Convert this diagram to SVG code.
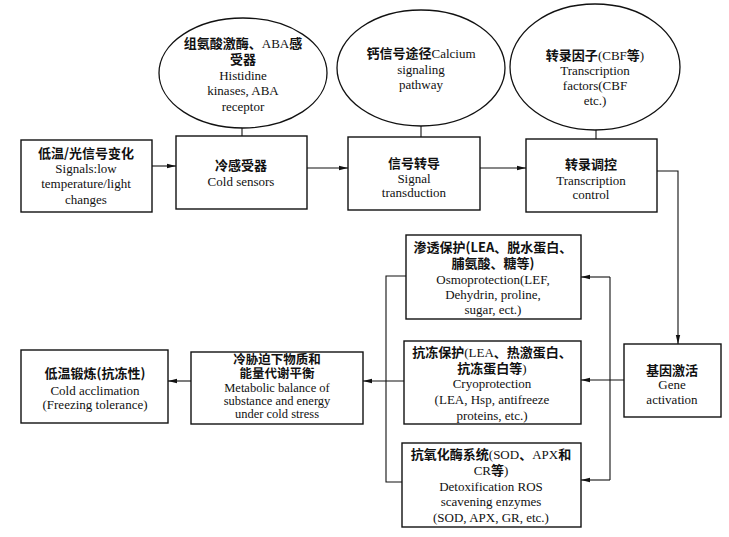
<svg xmlns="http://www.w3.org/2000/svg" width="729" height="537" viewBox="0 0 729 537">
<style>
.bx{fill:#fff;stroke:#111;stroke-width:1.4}
.el{fill:#fff;stroke:#111;stroke-width:1.3}
.ln{fill:none;stroke:#111;stroke-width:1.1}
text{font-family:"Liberation Serif","Noto Sans CJK SC",serif;font-size:13px;fill:#111;text-anchor:middle}
.zh{font-family:"Noto Sans CJK SC","Liberation Serif",sans-serif;font-weight:bold}
.sm{font-size:12.5px}
</style>
<defs>
<marker id="ar" markerWidth="9" markerHeight="6" refX="9" refY="3" orient="auto" markerUnits="userSpaceOnUse">
<path d="M0,0.8 L9,3 L0,5.2 z" fill="#111"/>
</marker>
</defs>
<rect width="729" height="537" fill="#fff"/>
<g id="connectors">
<line class="ln" x1="242" y1="127" x2="242" y2="136"/>
<line class="ln" x1="421" y1="126" x2="421" y2="137"/>
<line class="ln" x1="596" y1="130" x2="596" y2="139"/>
<line class="ln" x1="152" y1="166" x2="176" y2="166" marker-end="url(#ar)"/>
<line class="ln" x1="307" y1="168" x2="348" y2="168" marker-end="url(#ar)"/>
<line class="ln" x1="480" y1="168" x2="526" y2="168" marker-end="url(#ar)"/>
<polyline class="ln" points="657,171 678,171 678,344" marker-end="url(#ar)"/>
<line class="ln" x1="624" y1="380" x2="581" y2="380" marker-end="url(#ar)"/>
<line class="ln" x1="610" y1="277" x2="610" y2="480"/>
<line class="ln" x1="610" y1="277" x2="581" y2="277" marker-end="url(#ar)"/>
<line class="ln" x1="610" y1="480" x2="581" y2="480" marker-end="url(#ar)"/>
<polyline class="ln" points="406,276 386,276 386,482 402,482"/>
<line class="ln" x1="404" y1="381" x2="363" y2="381" marker-end="url(#ar)"/>
<line class="ln" x1="191" y1="381" x2="168" y2="381" marker-end="url(#ar)"/>
</g>
<g id="histidine">
<ellipse class="el" cx="243" cy="73" rx="84" ry="55"/>
<text x="243" y="48"><tspan class="zh">组氨酸激酶、</tspan>ABA<tspan class="zh">感</tspan></text>
<text x="243" y="64" class="zh">受器</text>
<text x="243" y="80">Histidine</text>
<text x="243" y="95">kinases, ABA</text>
<text x="243" y="111">receptor</text>
</g>
<g id="calcium">
<ellipse class="el" cx="421" cy="68" rx="84" ry="58"/>
<text x="421" y="58"><tspan class="zh">钙信号途径</tspan>Calcium</text>
<text x="421" y="74">signaling</text>
<text x="421" y="89">pathway</text>
</g>
<g id="tf">
<ellipse class="el" cx="595" cy="67" rx="85" ry="63"/>
<text x="595" y="60"><tspan class="zh">转录因子</tspan>(CBF<tspan class="zh">等</tspan>)</text>
<text x="595" y="75">Transcription</text>
<text x="595" y="90">factors(CBF</text>
<text x="595" y="105">etc.)</text>
</g>
<g id="signals">
<rect class="bx" x="21" y="140" width="131" height="72"/>
<text x="86" y="158" class="zh">低温/光信号变化</text>
<text x="86" y="173">Signals:low</text>
<text x="86" y="188">temperature/light</text>
<text x="86" y="204">changes</text>
</g>
<g id="sensors">
<rect class="bx" x="176" y="136" width="131" height="73"/>
<text x="241" y="170" class="zh">冷感受器</text>
<text x="241" y="186">Cold sensors</text>
</g>
<g id="transduction">
<rect class="bx" x="348" y="137" width="132" height="73"/>
<text x="414" y="168" class="zh">信号转导</text>
<text x="414" y="183">Signal</text>
<text x="414" y="197">transduction</text>
</g>
<g id="tcontrol">
<rect class="bx" x="526" y="139" width="131" height="73"/>
<text x="591" y="169" class="zh">转录调控</text>
<text x="591" y="185">Transcription</text>
<text x="591" y="199">control</text>
</g>
<g id="gene">
<rect class="bx" x="624" y="344" width="97" height="73"/>
<text x="672" y="375" class="zh">基因激活</text>
<text x="672" y="389">Gene</text>
<text x="672" y="404">activation</text>
</g>
<g id="osmo">
<rect class="bx" x="406" y="235" width="175" height="84"/>
<text x="493" y="252" class="zh">渗透保护(LEA、脱水蛋白、</text>
<text x="493" y="268" class="zh">脯氨酸、糖等)</text>
<text x="493" y="284">Osmoprotection(LEF,</text>
<text x="493" y="299">Dehydrin, proline,</text>
<text x="493" y="314">sugar, ect.)</text>
</g>
<g id="cryo">
<rect class="bx" x="404" y="341" width="177" height="83"/>
<text x="492" y="357"><tspan class="zh">抗冻保护</tspan>(LEA<tspan class="zh">、热激蛋白、</tspan></text>
<text x="492" y="373"><tspan class="zh">抗冻蛋白等</tspan>)</text>
<text x="492" y="388">Cryoprotection</text>
<text x="492" y="404">(LEA, Hsp, antifreeze</text>
<text x="492" y="420">proteins, etc.)</text>
</g>
<g id="detox">
<rect class="bx" x="402" y="443" width="179" height="84"/>
<text x="491" y="459"><tspan class="zh">抗氧化酶系统</tspan>(SOD<tspan class="zh">、</tspan>APX<tspan class="zh">和</tspan></text>
<text x="491" y="475">CR<tspan class="zh">等</tspan>)</text>
<text x="491" y="491">Detoxification ROS</text>
<text x="491" y="506">scavening enzymes</text>
<text x="491" y="522">(SOD, APX, GR, etc.)</text>
</g>
<g id="metabolic">
<rect class="bx" x="191" y="352" width="172" height="72"/>
<text x="277" y="364" class="zh sm">冷胁迫下物质和</text>
<text x="277" y="378" class="zh sm">能量代谢平衡</text>
<text x="277" y="392" class="sm">Metabolic balance of</text>
<text x="277" y="405" class="sm">substance and energy</text>
<text x="277" y="418" class="sm">under cold stress</text>
</g>
<g id="acclimation">
<rect class="bx" x="21" y="350" width="147" height="73"/>
<text x="95" y="378" class="zh">低温锻炼(抗冻性)</text>
<text x="95" y="395">Cold acclimation</text>
<text x="95" y="409">(Freezing tolerance)</text>
</g>
</svg>
